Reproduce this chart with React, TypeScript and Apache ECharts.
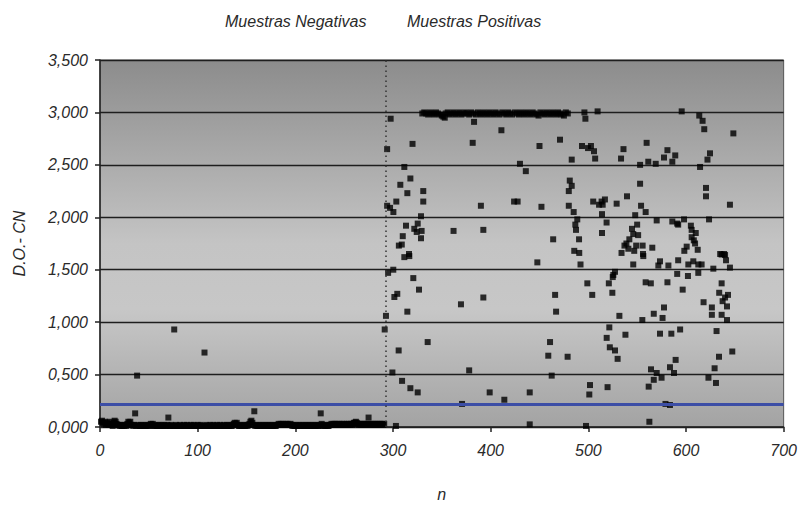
import React, { useEffect, useRef } from "react";
import * as echarts from "echarts";

// Negative samples, n = 1..291 (D.O. - CN)
const negValues: number[] = [
  0.05, 0.06, 0.04, 0.03, 0.05, 0.02, 0.04, 0.03, 0.02, 0.05, 0.03, 0.02, 0.01, 0.04, 0.06, 0.05, 0.03, 0.02, 0.02, 0.01,
  0.02, 0.01, 0.01, 0.02, 0.01, 0.02, 0.01, 0.03, 0.05, 0.04, 0.05, 0.02, 0.02, 0.01, 0.02, 0.13, 0.01, 0.49, 0.02, 0.01,
  0.01, 0.02, 0.01, 0.01, 0.02, 0.01, 0.01, 0.02, 0.01, 0.01, 0.02, 0.03, 0.02, 0.03, 0.01, 0.01, 0.02, 0.01, 0.01, 0.02,
  0.01, 0.01, 0.02, 0.01, 0.01, 0.02, 0.01, 0.01, 0.02, 0.09, 0.01, 0.01, 0.02, 0.01, 0.01, 0.93, 0.01, 0.02, 0.01, 0.01,
  0.01, 0.02, 0.01, 0.01, 0.01, 0.02, 0.01, 0.01, 0.02, 0.01, 0.01, 0.01, 0.02, 0.01, 0.01, 0.02, 0.01, 0.01, 0.01, 0.02,
  0.01, 0.01, 0.02, 0.01, 0.01, 0.01, 0.71, 0.01, 0.02, 0.01, 0.01, 0.01, 0.02, 0.01, 0.01, 0.02, 0.01, 0.01, 0.01, 0.02,
  0.01, 0.01, 0.02, 0.01, 0.01, 0.01, 0.02, 0.01, 0.01, 0.02, 0.01, 0.01, 0.02, 0.01, 0.01, 0.02, 0.03, 0.04, 0.03, 0.04,
  0.02, 0.01, 0.01, 0.02, 0.01, 0.01, 0.02, 0.01, 0.01, 0.02, 0.01, 0.02, 0.03, 0.05, 0.06, 0.04, 0.02, 0.15, 0.01, 0.02,
  0.01, 0.01, 0.02, 0.01, 0.01, 0.02, 0.01, 0.01, 0.02, 0.01, 0.01, 0.02, 0.01, 0.01, 0.02, 0.01, 0.01, 0.02, 0.01, 0.01,
  0.02, 0.02, 0.03, 0.02, 0.03, 0.02, 0.03, 0.02, 0.02, 0.03, 0.02, 0.03, 0.02, 0.02, 0.03, 0.02, 0.01, 0.02, 0.01, 0.01,
  0.02, 0.01, 0.01, 0.02, 0.01, 0.01, 0.02, 0.01, 0.01, 0.02, 0.01, 0.01, 0.02, 0.01, 0.01, 0.02, 0.01, 0.01, 0.02, 0.01,
  0.01, 0.02, 0.01, 0.01, 0.02, 0.13, 0.03, 0.01, 0.02, 0.01, 0.01, 0.02, 0.01, 0.01, 0.02, 0.02, 0.03, 0.02, 0.03, 0.02,
  0.03, 0.02, 0.03, 0.02, 0.03, 0.02, 0.02, 0.03, 0.02, 0.03, 0.02, 0.02, 0.03, 0.02, 0.03, 0.02, 0.03, 0.02, 0.03, 0.04,
  0.04, 0.05, 0.04, 0.03, 0.02, 0.03, 0.02, 0.03, 0.02, 0.03, 0.02, 0.03, 0.02, 0.03, 0.09, 0.02, 0.03, 0.02, 0.03, 0.02,
  0.03, 0.02, 0.03, 0.02, 0.03, 0.02, 0.03, 0.02, 0.03, 0.02, 0.03,
];

// Positive samples: saturated readings near 3,000
const satPoints: [number, number][] = [
  [330, 2.99], [332, 3.0], [334, 2.99], [336, 2.98], [338, 3.0], [340, 2.99], [342, 2.98], [344, 3.0], [346, 2.99], [348, 2.98],
  [350, 2.97], [351.5, 2.96], [354, 2.99], [356, 3.0], [358, 2.98], [360, 2.99], [362, 3.0], [364, 2.98], [366, 2.99], [368, 3.0],
  [370, 2.98], [372, 2.99], [374, 3.0], [376, 2.99], [378, 2.98], [380, 3.0], [382, 2.99], [385, 2.98], [387, 3.0], [389, 2.99],
  [391, 2.98], [393, 3.0], [395, 2.99], [397, 2.98], [399, 3.0], [401, 2.99], [403, 2.98], [405, 3.0], [407, 2.99], [409, 2.98],
  [412, 3.0], [414, 2.99], [416, 2.98], [418, 3.0], [420, 2.99], [422, 2.98], [425, 3.0], [427, 2.99], [429, 2.98], [431, 3.0],
  [433, 2.99], [435, 2.98], [437, 3.0], [439, 2.99], [441, 2.98], [443, 3.0], [445, 2.99], [447, 2.98], [449, 2.97], [451, 3.0],
  [453, 2.99], [455, 2.98], [457, 3.0], [459, 2.99], [461, 2.98], [463, 3.0], [465, 2.99], [467, 2.98], [469, 3.0], [471, 2.99],
  [472.7, 2.98], [475, 2.97], [477, 3.0], [479, 2.99],
];

// Positive samples: scattered readings
const posPoints: [number, number][] = [
  [291.5, 0.93], [292.8, 1.06], [294, 2.65], [294, 2.11], [295, 1.47], [297, 2.09], [297.6, 2.94], [299.4, 0.52], [300.3, 1.5], [300.4, 2.05],
  [301.4, 1.24], [303, 0.01], [303.4, 2.15], [304.4, 1.27], [305.8, 0.73], [306, 1.73], [307.5, 2.31], [309, 1.74], [309.3, 0.44], [310, 1.82],
  [311.6, 2.48], [311.6, 1.62], [313.3, 1.92], [314.7, 2.23], [314.7, 1.1], [316.4, 1.65], [316.7, 1.63], [317.8, 2.37], [317.8, 0.37], [320, 2.7],
  [320.8, 1.42], [321.8, 1.89], [324.3, 1.86], [325.3, 1.94], [325.3, 0.33], [326.6, 1.31], [328.7, 2.01], [328.7, 1.8], [329.3, 1.87], [331, 2.25],
  [331, 2.15], [335.5, 0.81], [353, 2.95], [362, 1.87], [369.6, 1.17], [370.7, 0.22], [378, 0.54], [381.6, 2.71], [383, 2.91], [390, 2.11],
  [392.5, 1.88], [392.5, 1.235], [399, 0.33], [411, 2.83], [414, 0.26], [424, 2.15], [427.6, 2.15], [430, 2.51], [436, 2.44], [440, 0.33],
  [440, 0.025], [447.8, 1.57], [450, 2.68], [452, 2.1], [459, 0.68], [460.8, 0.81], [462.5, 0.49], [464, 1.79], [466, 1.26], [467, 1.1],
  [471, 2.74], [478.8, 0.67], [480, 2.25], [480, 2.11], [481, 2.35], [483, 2.3], [483, 2.55], [485, 2.05], [485.6, 1.68], [486.7, 1.93],
  [487.4, 1.88], [488.7, 1.98], [490.5, 1.79], [490.7, 1.66], [492, 1.55], [493.5, 2.68], [496, 3.0], [497, 2.94], [497.6, 0.01], [499, 1.37],
  [499.7, 2.66], [501, 0.31], [501.7, 0.4], [502.7, 2.68], [504, 1.26], [505, 2.15], [505.8, 2.63], [507, 2.56], [509.5, 3.01], [511, 2.12],
  [513.6, 2.15], [514, 2.03], [514, 1.85], [514.7, 2.12], [517, 2.17], [518.7, 1.95], [518.8, 0.85], [519.7, 0.38], [521, 1.37], [521.5, 0.95],
  [522, 0.76], [524.6, 1.28], [525, 1.43], [525.6, 1.45], [527.3, 1.48], [527.3, 0.73], [529, 2.13], [530, 0.65], [531.8, 1.06], [533.5, 2.56],
  [534, 1.66], [536, 2.65], [537, 1.73], [538, 0.88], [539, 1.75], [539.6, 2.2], [541, 1.7], [542, 1.79], [544.7, 1.89], [546, 1.84],
  [546, 1.55], [547, 1.68], [548, 2.02], [549, 1.73], [550, 1.93], [551, 1.83], [553, 2.5], [553, 2.32], [554, 2.11], [555.3, 1.02],
  [555.6, 1.73], [556, 1.65], [556.3, 1.63], [558.7, 2.05], [558.7, 1.38], [559.7, 2.71], [561.4, 2.53], [561.8, 0.385], [562.5, 0.05], [564, 1.37],
  [564.2, 0.55], [565.5, 1.71], [567, 0.45], [567, 1.08], [569, 2.51], [570, 1.97], [570, 0.515], [571.7, 1.54], [573.4, 1.58], [573.4, 0.89],
  [575, 0.47], [576, 1.04], [577.5, 2.57], [577.5, 1.14], [579, 0.22], [581, 2.64], [581, 1.38], [582, 1.54], [583.6, 0.21], [583.6, 0.57],
  [585, 0.89], [586, 2.53], [586, 1.96], [587.7, 0.515], [589, 2.59], [589.4, 0.64], [591, 1.94], [591, 1.46], [592, 1.93], [592, 1.59],
  [594, 0.93], [595.6, 3.01], [596.6, 1.31], [598, 1.98], [598.3, 1.68], [600.7, 1.72], [602, 1.44], [602.4, 1.55], [605, 1.92], [605.8, 1.88],
  [605.8, 1.81], [607.5, 1.58], [608, 1.78], [609.3, 1.75], [610, 1.85], [612, 1.69], [612.6, 1.55], [612.6, 1.47], [613.6, 2.97], [614.4, 2.48],
  [616, 1.55], [617, 2.92], [618, 1.19], [618.7, 2.84], [620.5, 2.28], [620.5, 2.2], [622, 2.55], [623, 0.47], [623.6, 1.98], [624.6, 2.61],
  [626.5, 1.14], [626.5, 1.07], [628, 1.51], [629.3, 0.56], [630.7, 0.42], [631.3, 0.915], [633.8, 0.67], [634, 1.28], [635, 1.65], [636.5, 1.645],
  [636.5, 1.37], [636.5, 1.07], [637.5, 1.2], [639, 1.65], [640, 1.64], [640, 1.235], [641, 1.59], [642, 1.15], [642, 1.02], [643, 1.26],
  [645, 1.52], [645, 2.12], [647.4, 0.72], [648.5, 2.8],
];

const cutoffValue = 0.22;
const splitN = 292.5;
const topLabels = ["Muestras Negativas", "Muestras Positivas"];
const yAxisTitle = "D.O.- CN";
const xAxisTitle = "n";

const FONT = "'Liberation Sans', Arial, sans-serif";
const TXT = "#2a2a2a";
const FS = 16;

export default function App() {
  const ref = useRef<HTMLDivElement>(null);
  useEffect(() => {
    document.body.style.margin = "0";
    if (!ref.current) return;
    const chart = echarts.init(ref.current, undefined, { renderer: "svg" });
    const negData = negValues.map((v, i) => [i + 1, v]);
    const markerStyle = { color: "#000" };
    chart.setOption({
      animation: false,
      backgroundColor: "#ffffff",
      grid: {
        left: 100,
        right: 16,
        top: 60,
        bottom: 71,
        show: true,
        borderColor: "#555",
        borderWidth: 1,
        backgroundColor: new echarts.graphic.LinearGradient(0, 0, 0, 1, [
          { offset: 0, color: "#8c8c8c" },
          { offset: 0.5, color: "#c4c4c4" },
          { offset: 0.68, color: "#c7c7c7" },
          { offset: 1, color: "#a3a3a3" },
        ]),
      },
      graphic: [
        {
          type: "text",
          left: 225,
          top: 13,
          style: { text: topLabels[0], font: `italic ${FS}px ${FONT}`, fill: TXT },
        },
        {
          type: "text",
          left: 407,
          top: 13,
          style: { text: topLabels[1], font: `italic ${FS}px ${FONT}`, fill: TXT },
        },
      ],
      xAxis: {
        type: "value",
        min: 0,
        max: 700,
        interval: 100,
        name: xAxisTitle,
        nameLocation: "middle",
        nameGap: 59,
        nameTextStyle: { fontFamily: FONT, fontStyle: "italic", fontSize: FS, color: TXT },
        axisLine: { show: true, onZero: false, lineStyle: { color: "#222", width: 1.5 } },
        axisTick: { show: true, length: 5, lineStyle: { color: "#222", width: 1.5 } },
        axisLabel: { fontFamily: FONT, fontStyle: "italic", fontSize: FS, color: TXT, margin: 15 },
        splitLine: { show: false },
      },
      yAxis: {
        type: "value",
        min: 0,
        max: 3.5,
        interval: 0.5,
        name: yAxisTitle,
        nameLocation: "middle",
        nameGap: 73,
        nameRotate: 90,
        nameTextStyle: { fontFamily: FONT, fontStyle: "italic", fontSize: FS, color: TXT },
        axisLine: { show: true, lineStyle: { color: "#222", width: 1.5 } },
        axisTick: { show: true, length: 5, lineStyle: { color: "#222", width: 1.5 } },
        axisLabel: {
          fontFamily: FONT,
          fontStyle: "italic",
          fontSize: FS,
          color: TXT,
          margin: 12,
          formatter: (v: number) => v.toFixed(3).replace(".", ","),
        },
        splitLine: { show: true, lineStyle: { color: "#1e1e1e", width: 1.3 } },
      },
      series: [
        {
          type: "scatter",
          name: "ref",
          data: [],
          z: 1,
          markLine: {
            silent: true,
            symbol: "none",
            label: { show: false },
            data: [
              { yAxis: cutoffValue, lineStyle: { color: "#3c4ea6", width: 3, type: "solid" } },
              { xAxis: splitN, lineStyle: { color: "#333", width: 1.5, type: [1.5, 3.5] } },
            ],
          },
        },
        {
          type: "scatter",
          name: "neg",
          data: negData,
          symbol: "rect",
          symbolSize: 6,
          itemStyle: markerStyle,
          z: 3,
        },
        {
          type: "scatter",
          name: "sat",
          data: satPoints,
          symbol: "rect",
          symbolSize: 6,
          itemStyle: markerStyle,
          z: 3,
        },
        {
          type: "scatter",
          name: "pos",
          data: posPoints,
          symbol: "rect",
          symbolSize: 6,
          itemStyle: markerStyle,
          z: 3,
        },
      ],
    });
    return () => chart.dispose();
  }, []);
  return <div ref={ref} style={{ width: 800, height: 507, position: "absolute", left: 0, top: 0 }} />;
}
